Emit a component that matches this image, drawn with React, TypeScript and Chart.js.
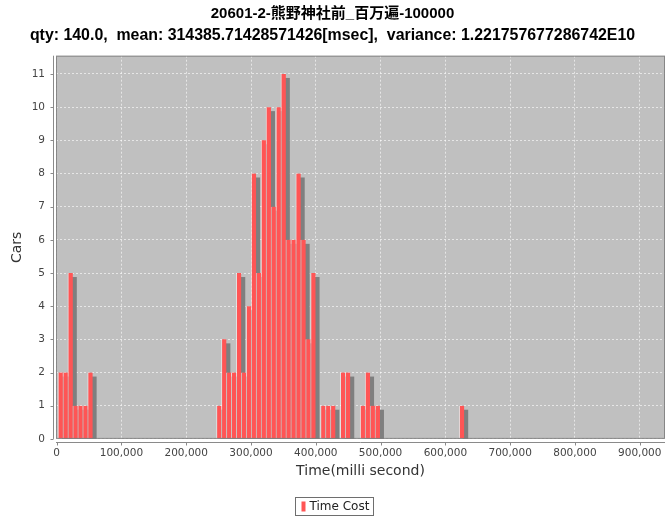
import React, { useEffect, useRef } from 'react';
import { Chart, registerables } from 'chart.js';

Chart.register(...registerables);

// ---- text ----
const TITLE_LINE_1 = '20601-2-熊野神社前_百万遍-100000';
const TITLE_LINE_2 = 'qty: 140.0,  mean: 314385.71428571426[msec],  variance: 1.221757677286742E10';
const SERIES_LABEL = 'Time Cost';
const X_TITLE = 'Time(milli second)';
const Y_TITLE = 'Cars';

// ---- histogram bins (ms) ----
const BIN_START = 2000;
const BIN_WIDTH = 7647;
const COUNTS = [
  2, 2, 5, 1, 1, 1, 2,
  0, 0, 0, 0, 0, 0, 0, 0, 0, 0, 0, 0, 0, 0, 0, 0, 0, 0, 0, 0, 0, 0, 0, 0, 0,
  1, 3, 2, 2, 5, 2, 4, 8, 5, 9, 10, 7, 10, 11, 6, 6, 8, 6, 3, 5,
  0, 1, 1, 1, 0, 2, 2, 0, 0, 1, 2, 1, 1,
  0, 0, 0, 0, 0, 0, 0, 0, 0, 0, 0, 0, 0, 0, 0, 0,
  1,
];

// ---- axes ----
const X_TICKS = [0, 100000, 200000, 300000, 400000, 500000, 600000, 700000, 800000, 900000];
const Y_TICKS = [0, 1, 2, 3, 4, 5, 6, 7, 8, 9, 10, 11];
const X_MIN = -1000;
const X_MAX = 939000;
const Y_MIN = 0;
const Y_MAX = 11.55;

const SANS = '"DejaVu Sans", sans-serif';
const TITLE_FONT = '"Liberation Sans", "Noto Sans CJK JP", sans-serif';

const plotBg = {
  id: 'plotBg',
  beforeDraw(chart: any) {
    const { ctx, chartArea: a } = chart;
    ctx.save();
    ctx.fillStyle = '#c0c0c0';
    ctx.fillRect(a.left, a.top, a.right - a.left, a.bottom - a.top);
    ctx.restore();
  },
};

const barShadows = {
  id: 'barShadows',
  beforeDatasetsDraw(chart: any) {
    const { ctx, chartArea: a } = chart;
    const meta = chart.getDatasetMeta(0);
    ctx.save();
    ctx.beginPath();
    ctx.rect(a.left, a.top, a.right - a.left, a.bottom - a.top);
    ctx.clip();
    ctx.fillStyle = '#7f7f7f';
    meta.data.forEach((el: any) => {
      const p = el.getProps(['x', 'y', 'base', 'width'], true);
      if (p.base - p.y < 0.5) return;
      ctx.fillRect(p.x - p.width / 2 + 4, p.y + 4, p.width, p.base - p.y);
    });
    ctx.restore();
  },
};

const axesAndLegend = {
  id: 'axesAndLegend',
  afterDraw(chart: any) {
    const { ctx, chartArea: a } = chart;
    const xs = chart.scales.x;
    const ys = chart.scales.y;
    ctx.save();
    // plot outline
    ctx.strokeStyle = 'rgba(128,128,128,0.9)';
    ctx.lineWidth = 1;
    ctx.strokeRect(a.left + 0.5, a.top + 0.5, a.right - a.left - 1, a.bottom - a.top - 1);
    // axis lines
    ctx.strokeStyle = '#8a8a8a';
    ctx.beginPath();
    const ax = Math.round(a.left - 3) + 0.5;
    ctx.moveTo(ax, a.top);
    ctx.lineTo(ax, a.bottom);
    Y_TICKS.forEach((v) => {
      const py = Math.round(ys.getPixelForValue(v)) + 0.5;
      ctx.moveTo(ax, py);
      ctx.lineTo(ax - 3, py);
    });
    const ay = Math.round(a.bottom + 3) + 0.5;
    ctx.moveTo(a.left, ay);
    ctx.lineTo(a.right, ay);
    X_TICKS.forEach((v) => {
      const px = Math.round(xs.getPixelForValue(v)) + 0.5;
      ctx.moveTo(px, ay);
      ctx.lineTo(px, ay + 3);
    });
    ctx.stroke();

    // legend
    ctx.font = '12px ' + SANS;
    const tw = ctx.measureText(SERIES_LABEL).width;
    const bw = Math.round(tw + 18);
    const bh = 18;
    const bx = Math.round(chart.width / 2 - bw / 2) + 0.5;
    const by = chart.height - bh - 2 + 0.5;
    ctx.strokeStyle = '#6e6e6e';
    ctx.strokeRect(bx, by, bw, bh);
    ctx.fillStyle = '#ff5555';
    ctx.fillRect(bx + 6, by + 4, 4, 10);
    ctx.fillStyle = '#222';
    ctx.textBaseline = 'middle';
    ctx.textAlign = 'left';
    ctx.fillText(SERIES_LABEL, bx + 14, by + bh / 2 + 0.5);
    ctx.restore();
  },
};

export default function App() {
  const ref = useRef<HTMLCanvasElement>(null);

  useEffect(() => {
    const canvas = ref.current;
    if (!canvas) return;
    const points = COUNTS.map((c, i) => ({ x: BIN_START + (i + 0.5) * BIN_WIDTH, y: c }));
    const chart = new Chart(canvas, {
      type: 'bar',
      data: {
        datasets: [
          {
            label: SERIES_LABEL,
            data: points as any,
            backgroundColor: '#ff5555',
            borderColor: 'rgba(255,255,255,0.55)',
            borderWidth: { top: 0, right: 0, bottom: 0, left: 1 } as any,
            borderSkipped: false as any,
            barPercentage: 1,
            categoryPercentage: 1,
          },
        ],
      },
      options: {
        responsive: false,
        animation: false,
        events: [],
        layout: { padding: { top: 0, left: 0, right: 2, bottom: 37.6 } },
        plugins: {
          legend: { display: false },
          tooltip: { enabled: false },
          title: {
            display: true,
            text: TITLE_LINE_1,
            color: '#000',
            font: { family: TITLE_FONT, size: 15, weight: 'bold', lineHeight: 22 / 15 },
            padding: { top: 3, bottom: 0 },
          },
          subtitle: {
            display: true,
            text: TITLE_LINE_2,
            color: '#000',
            font: { family: TITLE_FONT, size: 15.9, weight: 'bold', lineHeight: 22 / 15.9 },
            padding: { top: 0, bottom: 8.7 },
          },
        },
        scales: {
          x: {
            type: 'linear',
            min: X_MIN,
            max: X_MAX,
            offset: false,
            afterBuildTicks: (s: any) => {
              s.ticks = X_TICKS.map((v) => ({ value: v }));
            },
            afterFit: (s: any) => {
              s.height = 40.5;
              s.paddingLeft = 0;
              s.paddingRight = 0;
            },
            ticks: {
              autoSkip: false,
              maxRotation: 0,
              padding: 8,
              color: '#444',
              font: { family: SANS, size: 10.5 },
              callback: (v: any) => Number(v).toLocaleString('en-US'),
            },
            grid: { color: 'rgba(255,255,255,0.6)', lineWidth: 1, drawTicks: false, offset: false },
            border: { display: false, dash: [2, 2] },
            title: {
              display: true,
              text: X_TITLE,
              color: '#333',
              font: { family: SANS, size: 14 },
              padding: { top: 0, bottom: 0 },
            },
          },
          y: {
            type: 'linear',
            min: Y_MIN,
            max: Y_MAX,
            afterBuildTicks: (s: any) => {
              s.ticks = Y_TICKS.map((v) => ({ value: v }));
            },
            afterFit: (s: any) => {
              s.width = 56;
            },
            ticks: {
              padding: 11,
              color: '#444',
              font: { family: SANS, size: 10.5 },
            },
            grid: { color: 'rgba(255,255,255,0.6)', lineWidth: 1, drawTicks: false },
            border: { display: false, dash: [2, 2] },
            title: {
              display: true,
              text: Y_TITLE,
              color: '#333',
              font: { family: SANS, size: 14 },
              padding: { top: 8.6, bottom: 0 },
            },
          },
        },
      } as any,
      plugins: [plotBg, barShadows, axesAndLegend],
    });
    return () => chart.destroy();
  }, []);

  return (
    <div style={{ position: 'fixed', left: 0, top: 0, width: 667, height: 517, background: '#fff' }}>
      <canvas ref={ref} width={667} height={517} style={{ display: 'block', width: 667, height: 517 }} />
    </div>
  );
}
